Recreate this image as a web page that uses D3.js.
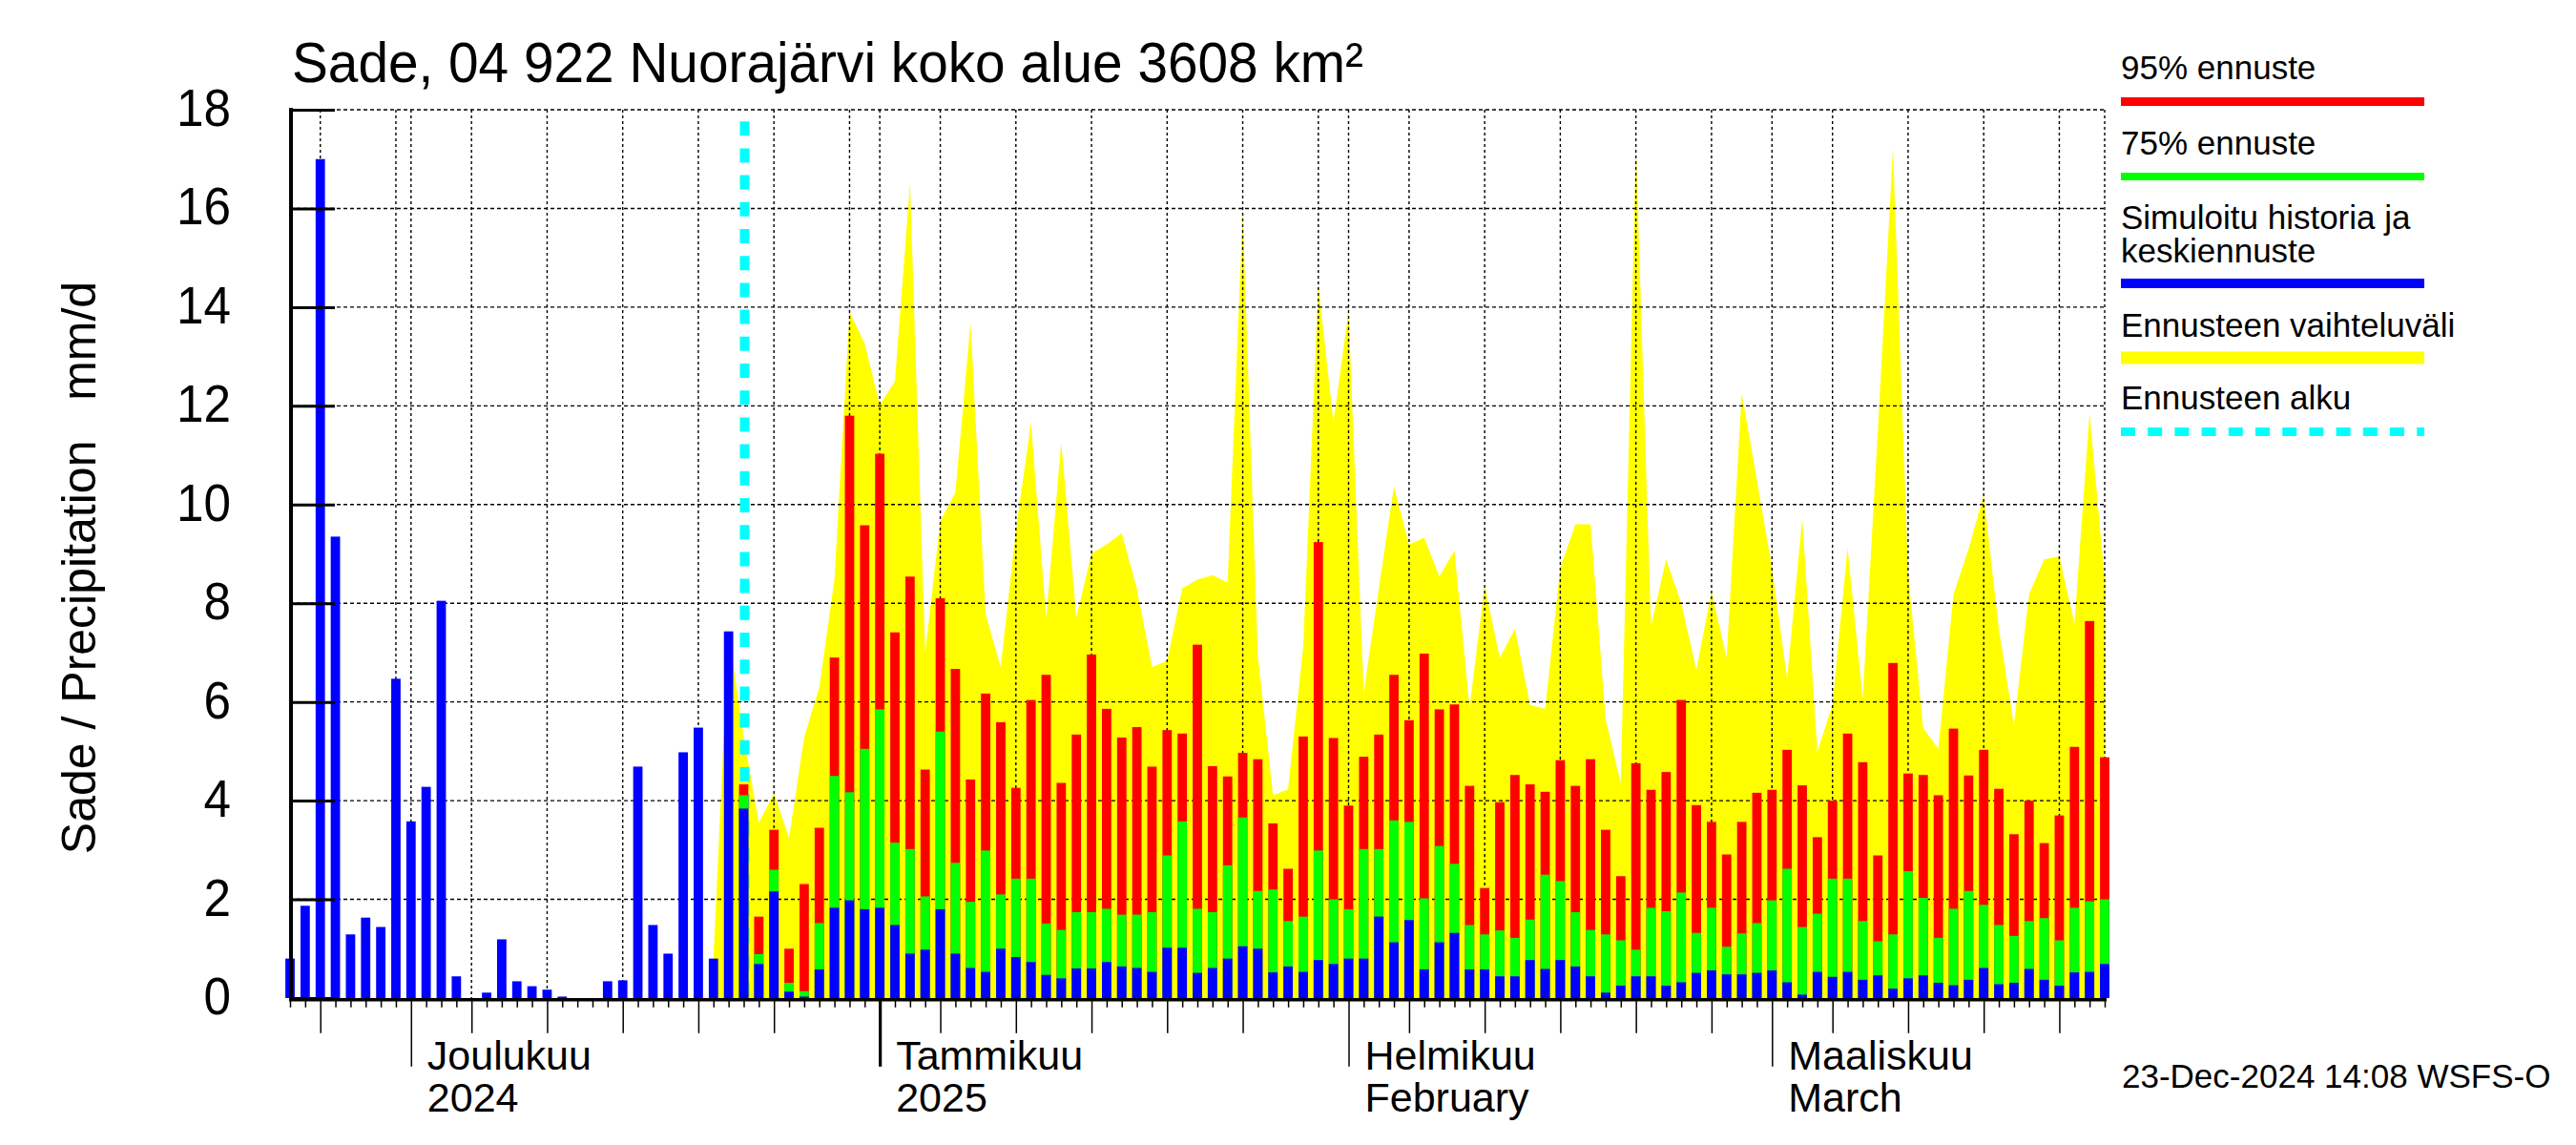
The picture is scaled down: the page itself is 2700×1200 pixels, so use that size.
<!DOCTYPE html>
<html>
<head>
<meta charset="utf-8">
<script src="https://cdn.jsdelivr.net/npm/d3@7/dist/d3.min.js"></script>
<style>
body{margin:0;background:#fff;}
text{font-family:"Liberation Sans",Arial,Helvetica,sans-serif;fill:#000;}
</style>
</head>
<body>
<script>
const width = 2700;
const height = 1200;
const plotLeft = 304;
const plotRight = 2206;
const plotTop = 115;
const plotBottom = 1046;

const firstDay = '2024-11-23';
const lastDay = '2025-03-23';
const forecastStart = '2024-12-23';
const rangeStartDay = '2024-12-21';

// simuloitu historia, mm/d, from 23.11.
const observed = [0.80,1.87,17.0,9.35,1.29,1.63,1.44,6.47,3.58,4.28,
                  8.05,0.44,0,0.11,1.19,0.34,0.24,0.17,0.03,0,
                  0,0.34,0.36,4.69,1.48,0.90,4.98,5.48,0.80,7.43];

// forecast from 23.12.
const forecastMedian = [3.84,0.69,2.16,0.13,0.03,0.58,1.83,1.98,1.80,1.83,
                        1.48,0.90,0.98,1.80,0.90,0.61,0.53,1.00,0.83,0.73,
                        0.47,0.40,0.60,0.60,0.73,0.64,0.61,0.53,1.02,1.02,
                        0.51,0.61,0.80,1.05,1.00,0.52,0.64,0.53,0.77,0.69,
                        0.80,0.80,1.65,1.13,1.58,0.58,1.13,1.32,0.58,0.58,
                        0.44,0.44,0.77,0.59,0.77,0.64,0.44,0.11,0.25,0.44,
                        0.44,0.25,0.32,0.51,0.56,0.48,0.48,0.51,0.56,0.32,
                        0.07,0.53,0.43,0.53,0.37,0.46,0.19,0.40,0.46,0.31,
                        0.26,0.37,0.61,0.28,0.31,0.59,0.37,0.25,0.52,0.53,
                        0.69];

const forecast75 = [4.11,0.89,2.60,0.31,0.14,1.52,4.50,4.17,5.05,5.85,
                    3.15,3.02,2.06,5.40,2.74,1.95,2.99,2.10,2.42,2.42,
                    1.51,1.38,1.74,1.74,1.81,1.69,1.69,1.74,2.89,3.58,
                    1.81,1.74,2.69,3.66,2.17,2.20,1.56,1.65,2.99,2.00,
                    1.80,3.02,3.02,3.60,3.57,2.02,3.08,2.72,1.48,1.29,
                    1.37,1.22,1.59,2.50,2.37,1.74,1.38,1.29,1.17,0.98,
                    1.83,1.76,2.14,1.32,1.83,1.04,1.31,1.52,1.98,2.62,
                    1.44,1.71,2.42,2.42,1.56,1.15,1.29,2.57,2.03,1.22,
                    1.81,2.17,1.89,1.48,1.26,1.56,1.62,1.17,1.83,1.96,
                    2.00];

const forecast95 = [4.33,1.65,3.41,1.00,2.31,3.45,6.90,11.80,9.58,11.03,
                    7.41,8.54,4.63,8.10,6.67,4.43,6.17,5.59,4.26,6.04,
                    6.55,4.36,5.34,6.96,5.86,5.28,5.49,4.69,5.43,5.36,
                    7.16,4.70,4.49,4.97,4.84,3.54,2.62,5.30,9.24,5.27,
                    3.90,4.89,5.34,6.55,5.63,6.98,5.85,5.95,4.30,2.23,
                    3.97,4.52,4.33,4.18,4.82,4.30,4.84,3.41,2.47,4.76,
                    4.22,4.58,6.04,3.91,3.57,2.91,3.57,4.16,4.22,5.03,
                    4.31,3.26,4.00,5.36,4.78,2.89,6.79,4.55,4.52,4.11,
                    5.46,4.51,5.03,4.24,3.32,4.00,3.14,3.70,5.09,7.64,
                    4.88];

// ennusteen vaihteluväli (upper edge) from 21.12.
const rangeMax = [0.80,7.43,
                  5.30,3.55,4.15,3.25,5.29,6.30,8.48,13.91,13.26,12.02,
                  12.50,16.51,7.00,9.66,10.25,13.68,7.77,6.71,9.48,11.67,
                  7.71,11.26,7.71,9.01,9.19,9.42,8.30,6.71,6.83,8.30,
                  8.48,8.57,8.42,15.92,6.94,4.11,4.23,7.12,14.44,11.67,
                  13.91,6.18,8.30,10.37,9.19,9.33,8.54,9.07,5.88,8.36,
                  6.89,7.48,5.94,5.86,8.72,9.60,9.60,5.65,4.35,17.28,
                  7.54,8.89,8.00,6.65,8.24,6.89,12.26,10.50,8.72,6.47,
                  9.72,5.00,5.94,9.13,6.06,11.50,17.22,8.60,5.47,5.05,
                  8.18,9.10,10.19,7.48,5.53,8.18,8.89,8.95,7.59,11.85,
                  8.48];

const yTicks = [0,2,4,6,8,10,12,14,16,18];
const monthStarts = ['2024-12-01','2025-01-01','2025-02-01','2025-03-01'];
const monthNames = ['Joulukuu','Tammikuu','Helmikuu','Maaliskuu'];
const monthSubNames = ['2024','2025','February','March'];
const gridDays = [1,5,10,15,20,25,30];
const midTickDays = [5,10,15,20,25];

const legendLabels = [['95% ennuste'],['75% ennuste'],['Simuloitu historia ja','keskiennuste'],['Ennusteen vaihteluväli'],['Ennusteen alku']];
const legendColors = ['#ff0000','#00ff00','#0000ff','#ffff00','#00ffff'];
const titleText = 'Sade, 04 922 Nuorajärvi koko alue 3608 km²';
const yLabel = 'Sade / Precipitation   mm/d';
const stamp = '23-Dec-2024 14:08 WSFS-O';

const parse = d3.utcParse('%Y-%m-%d');
const day0 = parse(firstDay);
const fcDay0 = parse(forecastStart);
const rangeDay0 = parse(rangeStartDay);
const allDays = d3.utcDay.range(day0, d3.utcDay.offset(parse(lastDay), 1));

const x = d3.scaleUtc().domain([day0, parse(lastDay)]).range([plotLeft, plotRight]);
const y = d3.scaleLinear().domain([0, 18]).range([plotBottom, plotTop]);
const barW = 9.8;

const svg = d3.select('body').append('svg')
              .attr('width', width)
              .attr('height', height)
              .style('display','block');

// yellow range
const rangeData = rangeMax.map((v,i)=>({date:d3.utcDay.offset(rangeDay0,i), v:v}));
svg.append('path').datum(rangeData)
   .attr('fill','#ffff00')
   .attr('d', d3.area().x(d=>x(d.date)).y0(y(0)).y1(d=>y(d.v)));

// grid
const grid = svg.append('g').attr('stroke','#000').attr('fill','none');
grid.selectAll('line.h').data(yTicks.filter(v=>v>0)).enter()
    .append('line').attr('class','h')
    .attr('x1', plotLeft).attr('x2', plotRight)
    .attr('y1', d=>y(d)).attr('y2', d=>y(d))
    .attr('stroke-width',1.4).attr('stroke-dasharray','4,3');
const gridDates = allDays.filter(d=>gridDays.includes(d.getUTCDate())).concat([parse(lastDay)]);
grid.selectAll('line.v').data(gridDates).enter()
    .append('line').attr('class','v')
    .attr('x1', d=>x(d)).attr('x2', d=>x(d))
    .attr('y1', plotTop).attr('y2', plotBottom)
    .attr('stroke-width',1.4).attr('stroke-dasharray','3,3');

// forecast start
svg.append('line')
   .attr('x1', x(fcDay0)+1).attr('x2', x(fcDay0)+1)
   .attr('y1', plotTop).attr('y2', plotBottom)
   .attr('stroke','#00ffff').attr('stroke-width',10)
   .attr('stroke-dasharray','15,13.2').attr('stroke-dashoffset',16);

// bars
const bars = svg.append('g');
bars.selectAll('rect.obs').data(observed).enter().append('rect')
    .attr('x',(d,i)=>x(d3.utcDay.offset(day0,i))-barW/2)
    .attr('width',barW)
    .attr('y',d=>y(d))
    .attr('height',d=>y(0)-y(d))
    .attr('fill','#0000ff');

const fc = forecastMedian.map((m,i)=>({date:d3.utcDay.offset(fcDay0,i), m:m, p75:forecast75[i], p95:forecast95[i]}));
[['p95','#ff0000'],['p75','#00ff00'],['m','#0000ff']].forEach(([k,c])=>{
    bars.selectAll('rect.'+k).data(fc).enter().append('rect')
        .attr('class',k)
        .attr('x',d=>x(d.date)-barW/2)
        .attr('width',barW)
        .attr('y',d=>y(d[k]))
        .attr('height',d=>y(0)-y(d[k]))
        .attr('fill',c);
});

// axes
const yAxis = d3.axisLeft(y).tickValues(yTicks).tickSizeInner(-46).tickSizeOuter(0).tickPadding(63);
const gy = svg.append('g').attr('transform',`translate(${plotLeft+1},0)`).call(yAxis);
gy.select('.domain').attr('stroke-width',4).attr('d',`M0,${plotTop-2}V${plotBottom+3}`);
gy.selectAll('.tick line').attr('stroke-width',3);
gy.selectAll('.tick text')
  .attr('font-size',55)
  .attr('font-family','"Liberation Sans",Arial,sans-serif')
  .attr('dy','0.3em')
  .attr('textLength',d=>String(d).length*28.5)
  .attr('lengthAdjust','spacingAndGlyphs');

const xAxis = d3.axisBottom(x).tickValues(allDays).tickSize(8).tickSizeOuter(0).tickFormat('');
const gx = svg.append('g').attr('transform',`translate(0,${plotBottom+1.8})`).call(xAxis);
gx.select('.domain').attr('stroke-width',3.6).attr('d',`M${plotLeft-1},0H${plotRight+2}`);
gx.selectAll('.tick line')
  .attr('stroke-width',d=>(d.getUTCDate()===1 && d.getUTCMonth()===0) ? 3.2 : 1.5)
  .attr('y2',d=>{
      if(d.getUTCDate()===1) return 70;
      if(midTickDays.includes(d.getUTCDate())) return 35;
      return 8;
  });

monthStarts.forEach((m,i)=>{
    const mx = x(parse(m))+17;
    svg.append('text').text(monthNames[i]).attr('x',mx).attr('y',1121).attr('font-size',43);
    svg.append('text').text(monthSubNames[i]).attr('x',mx).attr('y',1165).attr('font-size',43);
});

svg.append('text').text(titleText)
   .attr('x',306).attr('y',86)
   .attr('font-size',59)
   .attr('textLength',1123).attr('lengthAdjust','spacingAndGlyphs');

svg.append('text').text(yLabel)
   .attr('transform','translate(100,595) rotate(-90)')
   .attr('text-anchor','middle')
   .attr('font-size',50)
   .attr('xml:space','preserve')
   .style('white-space','pre');

// legend
const legendY = [83,162,240,353,429];
const legendLineY = [106.5,185,297,375,452.5];
const legendLineW = [9,8,10,13,9];
legendLabels.forEach((lines,i)=>{
    lines.forEach((t,j)=>{
        svg.append('text').text(t).attr('x',2223).attr('y',legendY[i]+j*35).attr('font-size',35);
    });
    const ln = svg.append('line')
        .attr('x1',2223).attr('x2',2541)
        .attr('y1',legendLineY[i]).attr('y2',legendLineY[i])
        .attr('stroke',legendColors[i]).attr('stroke-width',legendLineW[i]);
    if(i===4) ln.attr('stroke-dasharray','15,13.2');
});

svg.append('text').text(stamp).attr('x',2224).attr('y',1140).attr('font-size',35);
</script>
</body>
</html>
